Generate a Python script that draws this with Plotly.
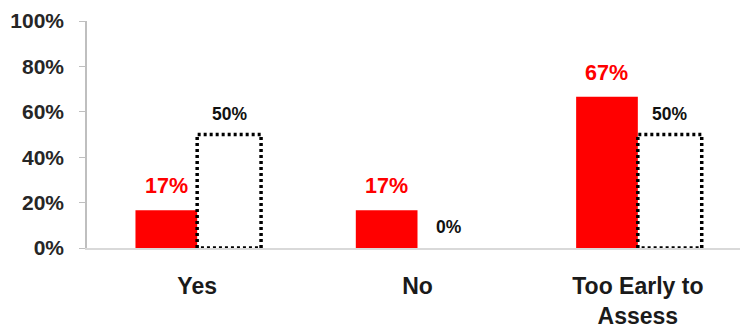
import plotly.graph_objects as go

categories = ["Yes", "No", "Too Early to<br>Assess"]
red_values = [16.67, 16.67, 66.67]
red_labels = ["17%", "17%", "67%"]
dotted_values = [50, 0, 50]
dotted_labels = ["50%", "0%", "50%"]
y_ticks = [0, 20, 40, 60, 80, 100]

bar_w = 0.28
dot_w = 0.29
idx = list(range(len(categories)))
font = "Liberation Sans, Arial"

fig = go.Figure()

fig.add_trace(go.Bar(
    x=idx, y=red_values, width=bar_w, offset=-bar_w,
    marker=dict(color="#ff0000", line=dict(width=0)),
    hoverinfo="skip", showlegend=False,
))

# dotted outlines for the second series (white bars)
ox, oy = [], []
for i, v in zip(idx, dotted_values):
    if v <= 0:
        continue
    x0, x1 = i, i + dot_w
    ox += [x0, x0, x1, x1, x0, None]
    oy += [0, v, v, 0, 0, None]
fig.add_trace(go.Scatter(
    x=ox, y=oy, mode="lines",
    line=dict(color="black", width=3.5, dash="3px,3px"),
    hoverinfo="skip", showlegend=False, cliponaxis=False,
))

annotations = []
for i, v, t in zip(idx, red_values, red_labels):
    annotations.append(dict(
        x=i - bar_w / 2, y=v, text=t, showarrow=False,
        yanchor="middle", yshift=24,
        font=dict(color="#ff0000", size=21.5, family=font, weight="bold"),
    ))
for i, v, t in zip(idx, dotted_values, dotted_labels):
    annotations.append(dict(
        x=i + dot_w / 2, y=v, text=t, showarrow=False,
        yanchor="middle", yshift=21,
        font=dict(color="#111111", size=17.5, family=font, weight="bold"),
    ))

fig.update_layout(
    width=740, height=320,
    margin=dict(l=79, r=0, t=13, b=80, autoexpand=False),
    paper_bgcolor="white", plot_bgcolor="white",
    barmode="overlay",
    font=dict(family=font, color="#262626"),
    annotations=annotations,
)
fig.update_xaxes(
    range=[-0.5, 2.5], tickvals=idx, ticktext=categories,
    showline=True, linecolor="#d9d9d9", linewidth=1.5,
    showgrid=False, zeroline=False, ticks="",
    ticklabelstandoff=17,
    tickfont=dict(size=23, color="#1a1a1a", weight="bold"),
)
fig.update_yaxes(
    range=[0, 100], tickvals=y_ticks, ticktext=[f"{t}%" for t in y_ticks],
    showline=True, linecolor="#bfbfbf", linewidth=1.5,
    ticks="outside", ticklen=6, tickcolor="#bfbfbf",
    showgrid=False, zeroline=False,
    ticklabelstandoff=11,
    tickfont=dict(size=21, color="#262626", weight="bold"),
)

fig.write_html("out.html")
